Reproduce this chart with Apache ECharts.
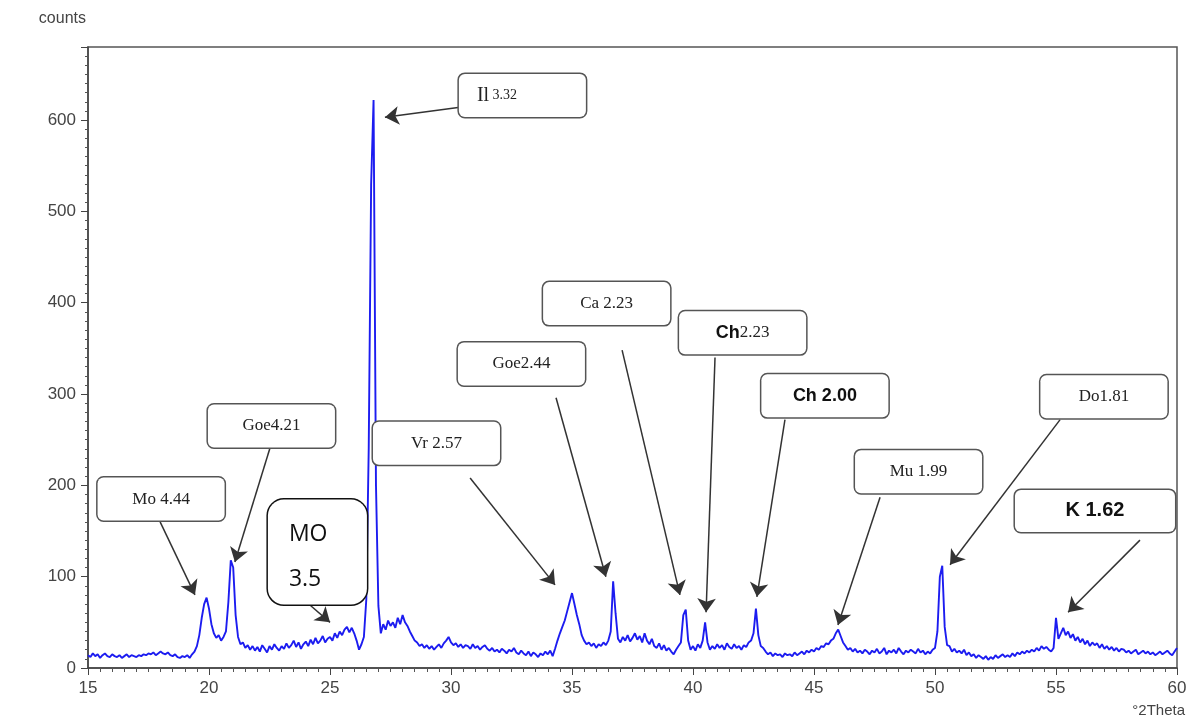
<!DOCTYPE html>
<html>
<head>
<meta charset="utf-8">
<title>XRD pattern</title>
<script src="https://cdn.jsdelivr.net/npm/echarts@6/dist/echarts.min.js"></script>
<style>
  html, body { margin: 0; padding: 0; background: #fff; }
  #main { width: 1188px; height: 724px; }
</style>
</head>
<body>
<div id="main"></div>
<script>
// scan grid (°2Theta)
const thetaStart = 15
const thetaStep = 0.1
// counts, one per 0.1° from 15.0 to 60.0
const counts = [
  14, 12, 16, 13, 15, 11, 14, 16, 13, 12, // 15
  15, 13, 12, 14, 11, 13, 15, 12, 14, 13, // 16
  12, 14, 13, 15, 14, 16, 15, 17, 14, 16, // 17
  18, 16, 15, 17, 14, 13, 15, 12, 11, 13, // 18
  12, 14, 11, 15, 18, 24, 36, 55, 70, 77, // 19
  65, 48, 38, 33, 36, 30, 34, 40, 72, 118, // 20
  110, 58, 34, 26, 28, 22, 25, 20, 24, 19, // 21
  23, 18, 25, 21, 17, 24, 20, 26, 22, 19, // 22
  24, 21, 27, 22, 25, 30, 23, 28, 21, 26, // 23
  29, 24, 31, 26, 33, 27, 30, 35, 28, 32, // 24
  34, 30, 38, 33, 40, 36, 42, 45, 39, 44, // 25
  38, 30, 20, 26, 34, 75, 240, 530, 622, 200, // 26
  68, 38, 48, 42, 52, 46, 50, 44, 55, 48, // 27
  58, 50, 46, 40, 35, 30, 28, 24, 26, 22, // 28
  25, 21, 24, 20, 23, 26, 22, 27, 30, 34, // 29
  28, 25, 27, 23, 26, 22, 25, 24, 21, 26, // 30
  22, 24, 20, 23, 25, 21, 19, 22, 18, 20, // 31
  17, 21, 19, 16, 20, 18, 22, 17, 15, 19, // 32
  16, 14, 18, 13, 17, 15, 12, 16, 14, 18, // 33
  15, 19, 13, 21, 30, 38, 45, 52, 62, 72, // 34
  82, 70, 58, 48, 36, 30, 26, 28, 24, 27, // 35
  22, 26, 24, 28, 25, 30, 40, 95, 60, 32, // 36
  28, 34, 30, 36, 29, 33, 38, 31, 35, 28, // 37
  38, 30, 26, 32, 24, 22, 27, 20, 25, 19, // 38
  22, 18, 15, 20, 24, 28, 58, 64, 30, 20, // 39
  24, 19, 26, 22, 30, 50, 28, 20, 24, 21, // 40
  26, 22, 25, 20, 27, 23, 21, 26, 22, 24, // 41
  20, 25, 23, 28, 30, 38, 65, 36, 24, 22, // 42
  18, 15, 17, 13, 16, 14, 15, 12, 16, 14, // 43
  15, 13, 17, 14, 16, 18, 15, 19, 17, 20, // 44
  18, 22, 20, 24, 23, 27, 26, 30, 32, 38, // 45
  42, 35, 28, 24, 20, 22, 18, 21, 17, 19, // 46
  16, 20, 18, 15, 19, 17, 21, 16, 18, 22, // 47
  15, 19, 17, 20, 16, 22, 18, 15, 19, 17, // 48
  20, 18, 16, 21, 17, 19, 15, 18, 16, 20, // 49
  22, 40, 100, 112, 45, 25, 24, 18, 21, 17, // 50
  19, 16, 20, 14, 17, 13, 15, 11, 14, 12, // 51
  10, 13, 9, 12, 10, 14, 11, 13, 15, 12, // 52
  14, 12, 16, 13, 17, 15, 18, 16, 19, 17, // 53
  20, 18, 22, 19, 24, 21, 23, 20, 18, 22, // 54
  55, 32, 38, 44, 36, 40, 33, 37, 30, 34, // 55
  28, 32, 26, 30, 24, 28, 25, 27, 22, 26, // 56
  21, 24, 20, 23, 19, 22, 18, 21, 20, 17, // 57
  19, 16, 18, 20, 15, 17, 19, 16, 18, 15, // 58
  17, 14, 16, 18, 15, 17, 19, 16, 14, 18, // 59
  22 // 60
]

// phase labels, box centres and arrows, all in data coordinates
const noteText = ['Il 3.32', 'Goe4.21', 'Mo 4.44', 'MO 3.5', 'Vr 2.57', 'Goe2.44',
  'Ca 2.23', 'Ch2.23', 'Ch 2.00', 'Mu 1.99', 'Do1.81', 'K 1.62']
const noteBox = [[32.95, 627], [22.58, 265], [18.02, 185], [24.48, 127], [29.40, 246], [32.91, 333],
  [36.43, 399], [42.05, 367], [45.45, 298], [49.32, 215], [56.98, 297], [56.61, 172]]
const arrowFrom = [[30.37, 614], [22.52, 241], [17.98, 160], [24.17, 69], [30.79, 208], [34.34, 296],
  [37.07, 348], [40.91, 340], [43.80, 272], [47.73, 187], [55.17, 272], [58.47, 140]]
const arrowTo = [[27.27, 603], [21.07, 116], [19.42, 80], [25.0, 50], [34.30, 91], [36.40, 100],
  [39.46, 80], [40.54, 61], [42.64, 78], [45.99, 47], [50.62, 113], [55.50, 61]]

const points = counts.map((c, i) => [+(thetaStart + i * thetaStep).toFixed(1), c])

const serif = '"Liberation Serif", "DejaVu Serif", serif'
const sans = '"Liberation Sans", Arial, sans-serif'

// how each label is written
function labelFor (i) {
  const t = noteText[i]
  const base = {
    show: true,
    position: 'inside',
    align: 'center',
    verticalAlign: 'middle',
    width: 127,
    height: 43,
    lineHeight: 43,
    backgroundColor: '#fff',
    borderColor: '#555',
    borderWidth: 1.5,
    borderRadius: 6,
    color: '#222',
    fontFamily: serif,
    fontSize: 17,
    rich: {
      t: { fontFamily: serif, fontSize: 17, color: '#222' },
      b: { fontFamily: serif, fontSize: 20, color: '#222', align: 'left' },
      s: { fontFamily: serif, fontSize: 14, color: '#222', align: 'left' },
      h: { fontFamily: sans, fontSize: 18, fontWeight: 'bold', color: '#111' },
      k: { fontFamily: sans, fontSize: 20, fontWeight: 'bold', color: '#111' },
      m: { fontFamily: '"Open Sans", "Noto Sans", sans-serif', fontSize: 23, color: '#111', lineHeight: 45, align: 'left' }
    }
  }
  if (i === 0) {
    const [a, b] = t.split(' ')
    base.formatter = '{b|' + a + '}{s| ' + b + '}'
    base.width = 109
    base.padding = [0, 0, 0, 18]
  } else if (i === 3) {
    const [a, b] = t.split(' ')
    base.formatter = '{m|' + a + '}\n{m|' + b + '}'
    base.width = 78
    base.height = 93
    base.lineHeight = 45
    base.padding = [12, 0, 0, 21]
    base.borderColor = '#111'
    base.borderRadius = 16
  } else if (i === 7) {
    base.formatter = '{h|' + t.slice(0, 2) + '}{t|' + t.slice(2) + '}'
  } else if (i === 8) {
    base.formatter = '{h|' + t + '}'
  } else if (i === 11) {
    base.formatter = '{k|' + t + '}'
    base.width = 160
    base.height = 42
    base.lineHeight = 42
  } else {
    base.formatter = '{t|' + t + '}'
  }
  return base
}

const myChart = echarts.init(document.getElementById('main'))
myChart.setOption({
  animation: false,
  backgroundColor: '#fff',
  grid: {
    left: 88,
    right: 11,
    top: 47,
    bottom: 56,
    outerBoundsMode: 'none',
    show: true,
    borderColor: '#555',
    borderWidth: 1.5
  },
  xAxis: {
    type: 'value',
    min: 15,
    max: 60,
    interval: 5,
    name: '°2Theta',
    nameLocation: 'end',
    nameGap: 8,
    nameTextStyle: { align: 'right', verticalAlign: 'top', padding: [35, 0, 0, 0], color: '#444', fontSize: 15, fontFamily: sans },
    axisLine: { lineStyle: { color: '#444', width: 1.5 } },
    axisTick: { inside: false, length: 7, lineStyle: { color: '#444' } },
    minorTick: { show: true, splitNumber: 10, length: 4, lineStyle: { color: '#555' } },
    axisLabel: { color: '#444', fontSize: 17, fontFamily: sans, margin: 12 },
    splitLine: { show: false }
  },
  yAxis: {
    type: 'value',
    min: 0,
    max: 680,
    interval: 100,
    name: 'counts',
    nameLocation: 'end',
    nameGap: 20,
    nameTextStyle: { align: 'right', color: '#444', fontSize: 16, fontFamily: sans, padding: [0, 2, 0, 0] },
    axisLine: { lineStyle: { color: '#444', width: 1.5 } },
    axisTick: { length: 7, lineStyle: { color: '#444' } },
    minorTick: { show: true, splitNumber: 10, length: 3, lineStyle: { color: '#555' } },
    axisLabel: { color: '#444', fontSize: 17, fontFamily: sans, margin: 12, showMaxLabel: false },
    splitLine: { show: false }
  },
  series: [
    {
      type: 'line',
      data: points,
      showSymbol: false,
      sampling: 'none',
      lineStyle: { color: '#1c1cf0', width: 1.9 },
      z: 2,
      markLine: {
        silent: true,
        symbol: ['none', 'arrow'],
        symbolSize: 14,
        label: { show: false },
        lineStyle: { color: '#333', width: 1.5, type: 'solid' },
        data: arrowFrom.map((p, i) => [{ coord: p }, { coord: arrowTo[i] }])
      },
      markPoint: {
        silent: true,
        symbol: 'rect',
        symbolSize: 1,
        itemStyle: { color: 'rgba(0,0,0,0)' },
        data: noteBox.map((p, i) => ({ coord: p, value: noteText[i], label: labelFor(i) }))
      }
    }
  ]
})
</script>
</body>
</html>
